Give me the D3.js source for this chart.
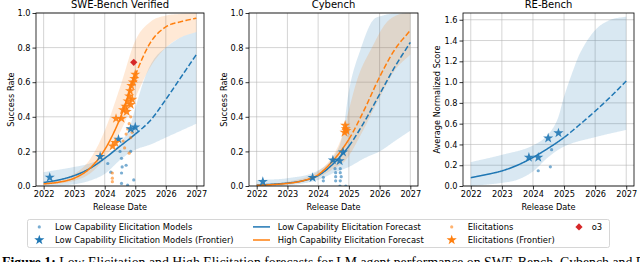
<!DOCTYPE html>
<html>
<head>
<meta charset="utf-8">
<script src="https://cdn.jsdelivr.net/npm/d3@7"></script>
<style>
  body { margin: 0; background: #fff; }
  svg { display: block; font-family: "DejaVu Sans", sans-serif; }
</style>
</head>
<body>
<div id="chart"></div>
<script>
// ---- data ----
var yearTicks = [2022, 2023, 2024, 2025, 2026, 2027];
var titles = ["SWE-Bench Verified", "Cybench", "RE-Bench"];
var yLabels = ["Success Rate", "Success Rate", "Average Normalized Score"];

// SWE-Bench Verified
var swe_low_fc = [[2022,0.02],[2022.5,0.035],[2023,0.06],[2023.5,0.1],[2024,0.16],[2024.5,0.23],[2025,0.3],[2025.5,0.38],[2026,0.5],[2026.5,0.63],[2027,0.76]];
var swe_low_hi = [[2022,0.08],[2023,0.11],[2023.5,0.13],[2024,0.17],[2024.5,0.25],[2024.8,0.33],[2025,0.45],[2025.3,0.62],[2025.6,0.73],[2026,0.8],[2026.5,0.86],[2027,0.89]];
var swe_low_lo = [[2022,0.0],[2023,0.01],[2023.5,0.03],[2024,0.07],[2024.5,0.15],[2024.8,0.19],[2025,0.21],[2025.5,0.24],[2026,0.28],[2026.5,0.32],[2027,0.36]];
var swe_high_fc = [[2022,0.012],[2022.5,0.022],[2023,0.045],[2023.5,0.1],[2024,0.21],[2024.5,0.39],[2025,0.64],[2025.5,0.83],[2026,0.92],[2026.5,0.95],[2027,0.97]];
var swe_high_hi = [[2022,0.02],[2023,0.07],[2023.5,0.15],[2024,0.32],[2024.5,0.57],[2025,0.84],[2025.5,0.95],[2026,0.985],[2026.5,0.995],[2027,1.0]];
var swe_high_lo = [[2022,0.005],[2023,0.03],[2023.5,0.07],[2024,0.16],[2024.5,0.31],[2025,0.51],[2025.5,0.69],[2026,0.8],[2026.5,0.86],[2027,0.89]];
var swe_low_pts = [[2024.1,0.13],[2024.2,0.08],[2024.5,0.2],[2024.55,0.16],[2024.57,0.11],[2024.55,0.075],[2024.55,0.015],[2024.7,0.12],[2024.75,0.005],[2024.95,0.035],[2024.85,0.2]];
var swe_low_star = [[2022.2,0.05],[2023.85,0.17],[2024.45,0.27],[2024.85,0.33],[2025.0,0.34]];
var swe_high_pts = [[2024.25,0.075],[2024.25,0.045],[2024.25,0.025],[2024.6,0.26],[2024.7,0.3],[2024.75,0.33],[2024.8,0.36],[2024.85,0.4],[2024.9,0.31],[2024.85,0.28],[2024.8,0.19],[2024.65,0.22]];
var swe_high_star = [[2024.26,0.23],[2024.35,0.25],[2024.37,0.39],[2024.55,0.39],[2024.6,0.44],[2024.68,0.46],[2024.72,0.43],[2024.75,0.49],[2024.8,0.52],[2024.83,0.55],[2024.87,0.58],[2024.9,0.5],[2024.92,0.6],[2024.97,0.62],[2025.0,0.645],[2024.85,0.47]];
var swe_o3 = [[2024.95,0.715]];

// Cybench
var cy_low_fc = [[2022,0.005],[2022.5,0.01],[2023,0.017],[2023.5,0.03],[2024,0.06],[2024.5,0.13],[2025,0.23],[2025.5,0.37],[2026,0.53],[2026.5,0.69],[2027,0.83]];
var cy_low_hi = [[2022,0.035],[2023,0.045],[2024,0.09],[2024.5,0.17],[2024.8,0.3],[2025,0.55],[2025.4,0.8],[2025.75,0.95],[2026.1,0.985],[2027,1.0]];
var cy_low_lo = [[2022,0.0],[2023,0.003],[2024,0.035],[2024.5,0.075],[2025,0.11],[2025.5,0.16],[2026,0.2],[2026.5,0.26],[2027,0.32]];
var cy_high_fc = [[2022,0.004],[2022.5,0.008],[2023,0.015],[2023.5,0.03],[2024,0.065],[2024.5,0.15],[2025,0.27],[2025.5,0.44],[2026,0.63],[2026.5,0.79],[2027,0.9]];
var cy_high_hi = [[2022,0.01],[2023,0.025],[2024,0.085],[2024.5,0.18],[2024.8,0.3],[2025,0.44],[2025.3,0.63],[2025.75,0.8],[2026.2,0.94],[2026.6,0.99],[2027,1.0]];
var cy_high_lo = [[2022,0.0],[2023,0.008],[2024,0.05],[2024.5,0.1],[2024.9,0.15],[2025.4,0.3],[2026,0.51],[2026.5,0.67],[2027,0.76]];
var cy_low_pts = [[2024.17,0.05],[2024.17,0.03],[2024.55,0.1],[2024.57,0.077],[2024.57,0.054],[2024.57,0.03],[2024.72,0.1],[2024.72,0.077],[2024.75,0.054],[2024.72,0.03],[2024.71,0.0],[2024.9,0.0]];
var cy_low_star = [[2022.2,0.025],[2023.82,0.048],[2024.48,0.15],[2024.7,0.145],[2024.81,0.195]];
var cy_high_pts = [[2024.9,0.31],[2024.92,0.33]];
var cy_high_star = [[2024.88,0.35],[2024.9,0.33],[2024.92,0.32],[2024.86,0.31]];

// RE-Bench
var re_low_fc = [[2022,0.08],[2022.5,0.11],[2023,0.145],[2023.5,0.2],[2024,0.275],[2024.5,0.365],[2025,0.467],[2025.5,0.59],[2026,0.72],[2026.5,0.86],[2027,1.01]];
var re_low_hi = [[2022,0.23],[2023,0.3],[2024,0.39],[2024.5,0.5],[2024.8,0.65],[2025,0.86],[2025.3,1.12],[2025.5,1.27],[2026,1.5],[2026.5,1.6],[2027,1.63]];
var re_low_lo = [[2022,0.0],[2023,0.03],[2023.5,0.06],[2024,0.14],[2024.5,0.28],[2025,0.38],[2026,0.47],[2027,0.54]];
var re_low_pts = [[2024.17,0.147],[2024.56,0.185],[2024.6,0.35]];
var re_low_star = [[2023.87,0.275],[2024.17,0.275],[2024.49,0.46],[2024.82,0.51]];

// legend entries
var legendRow1 = ["Low Capability Elicitation Models", "Low Capability Elicitation Forecast", "Elicitations", "o3"];
var legendRow2 = ["Low Capability Elicitation Models (Frontier)", "High Capability Elicitation Forecast", "Elicitations (Frontier)"];

var caption = "Low Elicitation and High Elicitation forecasts for LM agent performance on SWE-Bench, Cybench and RE-Bench.";

// ---- drawing ----
(function() {
var W = 640, H = 262;
var blue = "#1f77b4", orange = "#ff7f0e", red = "#d62728";
var cutYear = 2025;

var svg = d3.select("#chart").append("svg")
    .attr("width", W).attr("height", H);

var panels = [
  { left: 36, right: 204, ymax: 1.0, yticks: d3.range(0, 1.01, 0.2), ylx: 14,
    bands: [[swe_low_lo, swe_low_hi, blue], [swe_high_lo, swe_high_hi, orange]],
    lines: [[swe_low_fc, blue], [swe_high_fc, orange]],
    dots: [[swe_low_pts, blue], [swe_high_pts, orange]],
    stars: [[swe_low_star, blue], [swe_high_star, orange]],
    diamonds: swe_o3 },
  { left: 249, right: 418, ymax: 1.0, yticks: d3.range(0, 1.01, 0.2), ylx: 227,
    bands: [[cy_low_lo, cy_low_hi, blue], [cy_high_lo, cy_high_hi, orange]],
    lines: [[cy_low_fc, blue], [cy_high_fc, orange]],
    dots: [[cy_low_pts, blue], [cy_high_pts, orange]],
    stars: [[cy_low_star, blue], [cy_high_star, orange]],
    diamonds: [] },
  { left: 463, right: 634, ymax: 1.665, yticks: d3.range(0, 1.61, 0.2), ylx: 440,
    bands: [[re_low_lo, re_low_hi, blue]],
    lines: [[re_low_fc, blue]],
    dots: [[re_low_pts, blue]],
    stars: [[re_low_star, blue]],
    diamonds: [] }
];

var pTop = 13, pBottom = 186;
var starSym = d3.symbol().type(d3.symbolStar).size(32);
var diamondSym = d3.symbol().type(d3.symbolSquare).size(26);

panels.forEach(function(p, i) {
  var x = d3.scaleLinear().domain([2021.75, 2027.25]).range([p.left, p.right]);
  var y = d3.scaleLinear().domain([0, p.ymax]).range([pBottom, pTop]);

  var g = svg.append("g");

  svg.append("clipPath").attr("id", "clip" + i)
    .append("rect").attr("x", p.left).attr("y", pTop)
    .attr("width", p.right - p.left).attr("height", pBottom - pTop);

  // grid
  g.selectAll(".gx").data(yearTicks).enter().append("line")
    .attr("x1", d => x(d)).attr("x2", d => x(d))
    .attr("y1", pTop).attr("y2", pBottom)
    .attr("stroke", "#b0b0b0").attr("stroke-opacity", 0.55).attr("stroke-width", 1);
  g.selectAll(".gy").data(p.yticks).enter().append("line")
    .attr("x1", p.left).attr("x2", p.right)
    .attr("y1", d => y(d)).attr("y2", d => y(d))
    .attr("stroke", "#b0b0b0").attr("stroke-opacity", 0.55).attr("stroke-width", 1);

  var plot = g.append("g").attr("clip-path", "url(#clip" + i + ")");

  // bands, sampled along the smoothed edges
  var xs = d3.range(2022, 2027.001, 0.02);
  p.bands.forEach(function(b) {
    var fLo = interp(b[0]), fHi = interp(b[1]);
    var area = d3.area().x(d => x(d)).y0(d => y(fLo(d))).y1(d => y(fHi(d)));
    plot.append("path").attr("d", area(xs))
      .attr("fill", b[2]).attr("fill-opacity", 0.17).attr("stroke", "none");
  });

  // forecast lines: solid up to 2025, dashed after
  p.lines.forEach(function(l) {
    var f = interp(l[0]);
    var line = d3.line().x(d => x(d)).y(d => y(f(d)));
    plot.append("path").attr("d", line(d3.range(2022, cutYear + 0.001, 0.02)))
      .attr("fill", "none").attr("stroke", l[1]).attr("stroke-width", 1.5);
    plot.append("path").attr("d", line(d3.range(cutYear, 2027.001, 0.02)))
      .attr("fill", "none").attr("stroke", l[1]).attr("stroke-width", 1.5)
      .attr("stroke-dasharray", "5.5,2.4");
  });

  // points
  p.dots.forEach(function(s) {
    plot.selectAll(null).data(s[0]).enter().append("circle")
      .attr("cx", d => x(d[0])).attr("cy", d => y(d[1])).attr("r", 1.6)
      .attr("fill", s[1]).attr("fill-opacity", 0.6);
  });
  p.stars.forEach(function(s) {
    g.selectAll(null).data(s[0]).enter().append("path")
      .attr("d", starSym)
      .attr("transform", d => "translate(" + x(d[0]) + "," + y(d[1]) + ")")
      .attr("fill", s[1]).attr("fill-opacity", 0.9);
  });
  g.selectAll(null).data(p.diamonds).enter().append("path")
    .attr("d", diamondSym)
    .attr("transform", d => "translate(" + x(d[0]) + "," + y(d[1]) + ") rotate(45)")
    .attr("fill", red);

  // axes
  var xAxis = d3.axisBottom(x).tickValues(yearTicks).tickFormat(d3.format("d")).tickSize(3.5).tickPadding(2);
  var yAxis = d3.axisLeft(y).tickValues(p.yticks).tickFormat(d3.format(".1f")).tickSize(3.5).tickPadding(2);
  var ax = g.append("g").attr("transform", "translate(0," + pBottom + ")").call(xAxis);
  var ay = g.append("g").attr("transform", "translate(" + p.left + ",0)").call(yAxis);
  [ax, ay].forEach(function(a) {
    a.select(".domain").remove();
    a.selectAll("line").attr("stroke", "#000").attr("stroke-width", 0.8);
    a.selectAll("text").attr("font-size", 8.2).attr("fill", "#000")
      .attr("font-family", "DejaVu Sans");
  });

  // frame
  g.append("rect").attr("x", p.left).attr("y", pTop)
    .attr("width", p.right - p.left).attr("height", pBottom - pTop)
    .attr("fill", "none").attr("stroke", "#000").attr("stroke-width", 0.8);

  // labels
  g.append("text").attr("x", (p.left + p.right) / 2).attr("y", 8)
    .attr("text-anchor", "middle").attr("font-size", 10).text(titles[i]);
  g.append("text").attr("x", (p.left + p.right) / 2).attr("y", 209.5)
    .attr("text-anchor", "middle").attr("font-size", 8.2).text("Release Date");
  g.append("text")
    .attr("transform", "translate(" + p.ylx + "," + (pTop + pBottom) / 2 + ") rotate(-90)")
    .attr("text-anchor", "middle").attr("font-size", 8.2).text(yLabels[i]);
});

function interp(pts) {
  // piecewise cubic Hermite through the read points
  var xs = pts.map(d => d[0]), ys = pts.map(d => d[1]);
  var n = pts.length, m = new Array(n), dk = [];
  for (var k = 0; k < n - 1; k++) dk.push((ys[k + 1] - ys[k]) / (xs[k + 1] - xs[k]));
  m[0] = dk[0]; m[n - 1] = dk[n - 2];
  for (var k = 1; k < n - 1; k++) m[k] = dk[k - 1] * dk[k] <= 0 ? 0 : (dk[k - 1] + dk[k]) / 2;
  return function(t) {
    var k = Math.max(0, Math.min(n - 2, d3.bisectRight(xs, t) - 1));
    var h = xs[k + 1] - xs[k], s = (t - xs[k]) / h;
    var h00 = 2*s*s*s - 3*s*s + 1, h10 = s*s*s - 2*s*s + s, h01 = -2*s*s*s + 3*s*s, h11 = s*s*s - s*s;
    return h00 * ys[k] + h10 * h * m[k] + h01 * ys[k + 1] + h11 * h * m[k + 1];
  };
}

// legend
var lg = svg.append("g");
lg.append("rect").attr("x", 27.5).attr("y", 219.5).attr("width", 582).attr("height", 28)
  .attr("rx", 2).attr("fill", "#fff").attr("stroke", "#cccccc").attr("stroke-width", 0.8);
var rowY = [226.9, 240];
var lfs = 8.4;
function ltext(xp, yp, t) {
  lg.append("text").attr("x", xp).attr("y", yp).attr("dy", "0.35em")
    .attr("font-size", lfs).text(t);
}
lg.append("circle").attr("cx", 39.3).attr("cy", rowY[0]).attr("r", 1.6).attr("fill", blue).attr("fill-opacity", 0.6);
ltext(55, rowY[0], legendRow1[0]);
lg.append("path").attr("d", starSym).attr("transform", "translate(39.3," + rowY[1] + ")").attr("fill", blue);
ltext(55, rowY[1], legendRow2[0]);
lg.append("line").attr("x1", 253).attr("x2", 270).attr("y1", rowY[0]).attr("y2", rowY[0]).attr("stroke", blue).attr("stroke-width", 1.5);
ltext(277.7, rowY[0], legendRow1[1]);
lg.append("line").attr("x1", 253).attr("x2", 270).attr("y1", rowY[1]).attr("y2", rowY[1]).attr("stroke", orange).attr("stroke-width", 1.5);
ltext(277.7, rowY[1], legendRow2[1]);
lg.append("circle").attr("cx", 451.7).attr("cy", rowY[0]).attr("r", 1.6).attr("fill", orange).attr("fill-opacity", 0.6);
ltext(467.7, rowY[0], legendRow1[2]);
lg.append("path").attr("d", starSym).attr("transform", "translate(451.7," + rowY[1] + ")").attr("fill", orange);
ltext(467.7, rowY[1], legendRow2[2]);
lg.append("path").attr("d", diamondSym).attr("transform", "translate(579," + rowY[0] + ") rotate(45)").attr("fill", red);
ltext(591.7, rowY[0], legendRow1[3]);

// caption (cut off at the bottom edge)
var cap = svg.append("text").attr("x", 2).attr("y", 267)
  .attr("font-family", "Liberation Serif, serif").attr("font-size", 13.8);
cap.append("tspan").attr("font-weight", "bold").text("Figure 1: ");
cap.append("tspan").text(caption);
})();
</script>
</body>
</html>
